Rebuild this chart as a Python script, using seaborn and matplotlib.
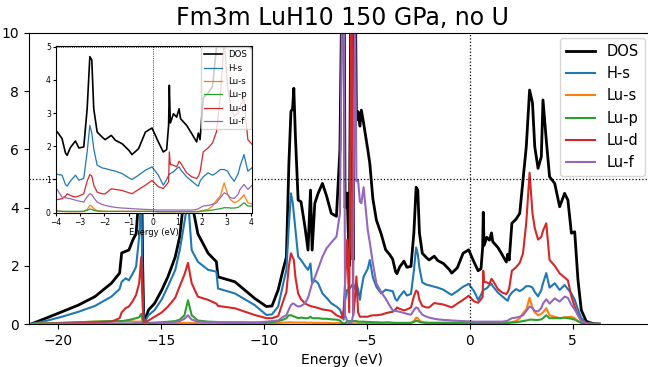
import matplotlib
matplotlib.use("Agg")
import matplotlib.pyplot as plt
import seaborn as sns
import numpy as np

title = "Fm3m LuH10 150 GPa, no U"
series_names = ["DOS", "H-s", "Lu-s", "Lu-p", "Lu-d", "Lu-f"]

energy = [-21.3, -21.0, -20.5, -19.8, -19.0, -18.2, -17.4, -17.0, -16.9, -16.7,
          -16.55, -16.35, -16.2, -16.05, -15.95, -15.88, -15.82, -15.6, -15.3, -14.95,
          -14.65, -14.3, -14.08, -13.85, -13.68, -13.5, -13.2, -12.7, -12.3, -12.22,
          -11.4, -10.44, -9.87, -9.6, -9.3, -9.05, -8.9, -8.78, -8.68, -8.6,
          -8.54, -8.46, -8.33, -8.19, -8.0, -7.85, -7.73, -7.65, -7.52, -7.36,
          -7.15, -6.95, -6.72, -6.47, -6.3, -6.2, -6.12, -6.05, -5.95, -5.85,
          -5.74, -5.66, -5.58, -5.5, -5.42, -5.33, -5.26, -5.15, -4.95, -4.85,
          -4.7, -4.53, -4.3, -4.08, -3.9, -3.74, -3.6, -3.53, -3.4, -3.19,
          -3.05, -2.85, -2.71, -2.6, -2.52, -2.44, -2.3, -2.1, -1.97, -1.72,
          -1.55, -1.28, -1.0, -0.87, -0.6, -0.32, -0.05, 0.21, 0.41, 0.55,
          0.63, 0.66, 0.7, 0.83, 0.96, 1.06, 1.12, 1.37, 1.58, 1.78,
          1.85, 1.92, 2.05, 2.25, 2.43, 2.59, 2.75, 2.91, 3.05, 3.16,
          3.32, 3.48, 3.56, 3.72, 3.88, 4.13, 4.37, 4.61, 4.77, 4.94,
          5.1, 5.26, 5.42, 5.66, 6.0, 6.3]

dos = [0, 0.08, 0.22, 0.42, 0.65, 0.94, 1.4, 1.75, 2.44, 2.5,
       2.54, 2.9, 3.1, 4.5, 6.5, 2.0, 0.02, 0.48, 0.71, 1.17,
       1.63, 2.3, 3.0, 4.5, 6.0, 4.2, 3.1, 2.43, 2.14, 1.62,
       1.45, 0.88, 0.6, 0.62, 1.17, 1.9, 2.3, 5.5, 7.3, 7.4,
       8.1, 6.4, 4.26, 4.2, 3.34, 2.54, 4.6, 2.54, 4.15, 4.49,
       4.83, 4.4, 3.8, 3.7, 6.0, 12, 16, 4.0, 4.5, 2.0,
       15, 2.2, 14, 7.0, 7.3, 6.8, 7.35, 6.9, 6.0, 5.52,
       4.3, 3.57, 3.1, 2.55, 2.4, 2.23, 1.8, 1.73, 1.96, 2.16,
       1.95, 1.98, 3.13, 4.7, 4.6, 3.13, 2.43, 2.28, 2.2, 2.33,
       2.18, 2.08, 1.88, 1.75, 1.93, 2.43, 2.55, 2.13, 1.83, 1.9,
       2.63, 3.84, 2.7, 2.98, 2.88, 3.13, 2.83, 2.63, 2.38, 2.13,
       2.4, 2.2, 3.46, 3.6, 3.8, 4.95, 6.1, 8.04, 7.6, 6.1,
       5.35, 5.75, 7.7, 6.32, 5.06, 4.83, 4.03, 4.49, 4.26, 3.12,
       3.17, 1.51, 0.48, 0.09, 0.01, 0]

h_s = [0, 0.04, 0.12, 0.25, 0.42, 0.62, 0.94, 1.2, 1.45, 1.57,
       1.5, 1.75, 1.97, 3.0, 4.5, 1.2, 0.01, 0.3, 0.48, 0.85,
       1.3, 1.85, 2.54, 3.5, 4.3, 2.54, 2.14, 1.86, 1.8, 1.22,
       1.05, 0.65, 0.31, 0.33, 0.6, 1.4, 1.86, 3.4, 4.49, 4.2,
       3.8, 3.23, 2.31, 2.2, 2.0, 1.86, 2.08, 1.4, 1.5, 1.4,
       1.05, 0.9, 0.71, 0.6, 0.5, 0.3, 0.15, 0.8, 1.17, 1.2,
       1.3, 1.4, 1.2, 1.4, 1.2, 0.83, 1.2, 1.63, 1.9, 2.2,
       1.6, 1.28, 1.05, 1.18, 1.15, 1.13, 0.85, 0.8, 0.95, 1.13,
       0.98, 1.03, 1.83, 2.63, 2.4, 1.93, 1.43, 1.35, 1.33, 1.28,
       1.25, 1.18, 1.05, 1.0, 1.13, 1.28, 1.38, 1.13, 0.83, 1.0,
       1.13, 1.15, 1.18, 1.23, 1.33, 1.38, 1.3, 1.08, 0.95, 0.83,
       0.8, 0.95, 1.08, 1.2, 1.13, 1.2, 1.3, 1.3, 1.25, 1.1,
       0.95, 1.17, 1.4, 1.75, 1.25, 1.4, 1.17, 1.34, 1.2, 1.05,
       0.83, 0.5, 0.2, 0.04, 0, 0]

lu_s = [0, 0.01, 0.02, 0.04, 0.06, 0.08, 0.1, 0.1, 0.1, 0.1,
        0.1, 0.09, 0.08, 0.08, 0.08, 0.04, 0, 0.02, 0.03, 0.03,
        0.03, 0.03, 0.03, 0.04, 0.04, 0.03, 0.03, 0.02, 0.02, 0.02,
        0.02, 0.02, 0.02, 0.03, 0.03, 0.05, 0.05, 0.06, 0.06, 0.05,
        0.05, 0.05, 0.05, 0.05, 0.05, 0.04, 0.05, 0.04, 0.04, 0.04,
        0.04, 0.04, 0.03, 0.03, 0.03, 0.02, 0.01, 0.01, 0.02, 0.02,
        0.02, 0.02, 0.02, 0.02, 0.02, 0.02, 0.02, 0.02, 0.02, 0.02,
        0.02, 0.02, 0.03, 0.05, 0.05, 0.04, 0.03, 0.03, 0.03, 0.03,
        0.03, 0.04, 0.1, 0.22, 0.2, 0.12, 0.06, 0.05, 0.04, 0.04,
        0.04, 0.04, 0.04, 0.04, 0.04, 0.04, 0.04, 0.03, 0.03, 0.03,
        0.03, 0.03, 0.03, 0.03, 0.03, 0.03, 0.03, 0.03, 0.03, 0.04,
        0.04, 0.05, 0.07, 0.1, 0.2, 0.37, 0.5, 0.9, 0.55, 0.4,
        0.3, 0.35, 0.4, 0.54, 0.3, 0.25, 0.2, 0.22, 0.24, 0.25,
        0.2, 0.09, 0.04, 0.01, 0, 0]

lu_p = [0, 0.01, 0.02, 0.04, 0.06, 0.08, 0.1, 0.1, 0.1, 0.12,
        0.14, 0.17, 0.2, 0.23, 0.35, 0.1, 0, 0.04, 0.05, 0.06,
        0.08, 0.1, 0.15, 0.3, 0.82, 0.3, 0.12, 0.08, 0.07, 0.06,
        0.06, 0.05, 0.05, 0.06, 0.1, 0.15, 0.2, 0.3, 0.3, 0.28,
        0.26, 0.24, 0.2, 0.22, 0.2, 0.2, 0.25, 0.2, 0.2, 0.2,
        0.18, 0.18, 0.16, 0.15, 0.12, 0.05, 0.02, 0.02, 0.1, 0.1,
        0.1, 0.1, 0.1, 0.1, 0.08, 0.08, 0.08, 0.08, 0.07, 0.07,
        0.06, 0.06, 0.05, 0.05, 0.05, 0.04, 0.04, 0.04, 0.04, 0.04,
        0.04, 0.04, 0.07, 0.11, 0.1, 0.07, 0.05, 0.04, 0.04, 0.04,
        0.04, 0.04, 0.04, 0.04, 0.04, 0.04, 0.04, 0.03, 0.03, 0.03,
        0.03, 0.03, 0.03, 0.03, 0.03, 0.03, 0.03, 0.03, 0.03, 0.03,
        0.03, 0.04, 0.05, 0.06, 0.08, 0.1, 0.12, 0.15, 0.15, 0.14,
        0.14, 0.16, 0.2, 0.3, 0.2, 0.2, 0.2, 0.22, 0.2, 0.18,
        0.15, 0.1, 0.04, 0.01, 0, 0]

lu_d = [0, 0, 0.01, 0.02, 0.03, 0.05, 0.08, 0.2, 0.4, 0.55,
        0.6, 0.8, 1.0, 1.4, 2.3, 0.6, 0, 0.12, 0.25, 0.4,
        0.6, 0.9, 1.3, 1.7, 2.1, 1.4, 0.94, 0.83, 0.7, 0.62,
        0.54, 0.31, 0.2, 0.2, 0.27, 0.8, 1.1, 2.0, 2.43, 2.3,
        2.2, 1.6, 1.05, 0.85, 0.71, 0.65, 0.62, 0.6, 0.58, 0.55,
        0.5, 0.48, 0.45, 0.3, 0.25, 0.2, 0.5, 1.4, 2.9, 0.4,
        13, 0.3, 0.8, 1.63, 0.4, 0.25, 0.25, 0.25, 0.25, 0.28,
        0.3, 0.3, 0.32, 0.37, 0.4, 0.42, 0.5, 0.57, 0.52, 0.47,
        0.5, 0.57, 0.95, 1.15, 1.1, 0.83, 0.62, 0.57, 0.57, 0.72,
        0.7, 0.67, 0.6, 0.57, 0.7, 0.83, 0.97, 0.78, 0.73, 0.85,
        0.93, 1.83, 1.45, 1.43, 1.38, 1.55, 1.5, 1.2, 1.08, 1.03,
        1.1, 1.23, 1.83, 1.95, 2.1, 2.43, 3.5, 5.2, 3.8, 3.3,
        2.9, 3.0, 3.2, 3.46, 2.2, 2.0, 1.74, 1.6, 1.5, 0.94,
        0.6, 0.3, 0.12, 0.02, 0, 0]

lu_f = [0, 0, 0, 0.01, 0.01, 0.01, 0.02, 0.02, 0.02, 0.02,
        0.02, 0.02, 0.03, 0.03, 0.03, 0.01, 0, 0.02, 0.03, 0.04,
        0.05, 0.07, 0.1, 0.18, 0.3, 0.15, 0.08, 0.07, 0.06, 0.06,
        0.05, 0.05, 0.08, 0.1, 0.12, 0.25, 0.3, 0.5, 0.65, 0.7,
        0.7, 0.65, 0.6, 0.62, 0.71, 0.9, 1.2, 1.4, 1.6, 1.9,
        2.31, 2.6, 2.8, 3.0, 3.8, 11, 14, 0.3, 0.1, 0.05,
        0.05, 0.3, 12, 4.9, 4.95, 4.2, 4.15, 4.7, 3.23, 2.8,
        2.08, 1.4, 1.1, 0.87, 0.65, 0.47, 0.45, 0.44, 0.42, 0.38,
        0.35, 0.32, 0.48, 0.57, 0.55, 0.45, 0.32, 0.25, 0.22, 0.18,
        0.16, 0.14, 0.13, 0.12, 0.11, 0.1, 0.09, 0.08, 0.08, 0.08,
        0.08, 0.08, 0.08, 0.08, 0.08, 0.08, 0.08, 0.08, 0.08, 0.1,
        0.12, 0.15, 0.2, 0.22, 0.25, 0.3, 0.45, 0.6, 0.55, 0.45,
        0.43, 0.55, 0.7, 0.85, 0.7, 0.88, 0.77, 0.94, 0.9, 0.66,
        0.5, 0.3, 0.1, 0.02, 0, 0]

colors = ["black", "#1f77b4", "#ff7f0e", "#2ca02c", "#d62728", "#9467bd"]
values = [dos, h_s, lu_s, lu_p, lu_d, lu_f]
for v in values:
    assert len(v) == len(energy)

W, H = 648, 367
fig = plt.figure(figsize=(W / 100, H / 100), dpi=100)

# main axes
ax = fig.add_axes([29 / W, (H - 324) / H, 626 / W, 291 / H])
for name, vals, col in zip(series_names, values, colors):
    sns.lineplot(x=energy, y=vals, ax=ax, color=col, label=name,
                 linewidth=2.0 if name == "DOS" else 1.5,
                 estimator=None, sort=False)
ax.axvline(0, color="black", ls=":", lw=0.9)
ax.axhline(5, color="black", ls=":", lw=0.9)
ax.set_xlim(-21.4, 9.0)
ax.set_ylim(0, 10)
ax.set_xticks([-20, -15, -10, -5, 0, 5])
ax.set_yticks([0, 2, 4, 6, 8, 10])
ax.tick_params(labelsize=10)
ax.set_xlabel("Energy (eV)", fontsize=10)
ax.set_ylabel("")
ax.set_title(title, fontsize=17)
ax.legend(loc="upper right", bbox_to_anchor=(645 / W, 1 - 38 / H),
          bbox_transform=fig.transFigure, borderaxespad=0, fontsize=10.5)

# inset axes
ins = fig.add_axes([55.7 / W, (H - 212.7) / H, 196.3 / W, 167 / H])
for name, vals, col in zip(series_names, values, colors):
    sns.lineplot(x=energy, y=vals, ax=ins, color=col, label=name,
                 linewidth=1.2 if name == "DOS" else 0.9,
                 estimator=None, sort=False)
ins.axvline(0, color="black", ls=":", lw=0.6)
ins.axhline(5, color="black", ls=":", lw=0.6)
ins.set_xlim(-4, 4.05)
ins.set_ylim(0, 5.03)
ins.set_xticks([-4, -3, -2, -1, 0, 1, 2, 3, 4])
ins.set_yticks([0, 1, 2, 3, 4, 5])
ins.tick_params(labelsize=5.5, length=2, pad=1.5)
ins.set_xlabel("Energy (eV)", fontsize=6, labelpad=1)
ins.set_ylabel("")
ins.legend(loc="upper right", fontsize=6.2, borderaxespad=0.15)

fig.savefig("out.png", dpi=100)
